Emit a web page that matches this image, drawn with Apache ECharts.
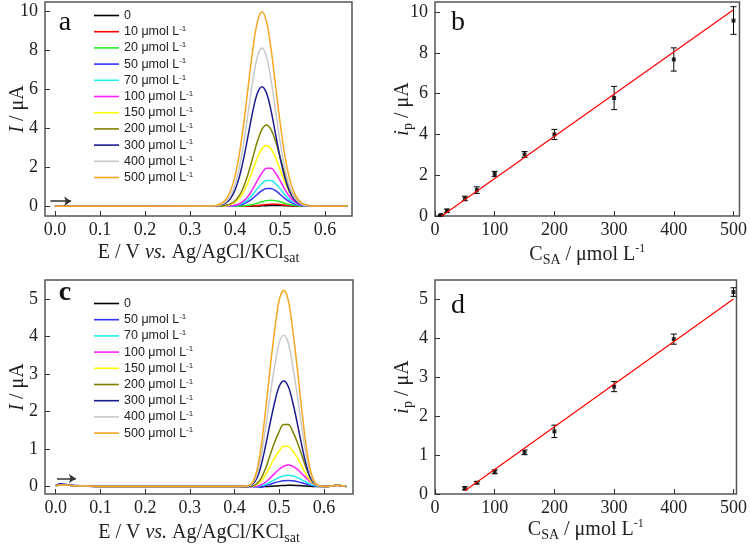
<!DOCTYPE html>
<html>
<head>
<meta charset="utf-8">
<script src="https://cdn.jsdelivr.net/npm/echarts@6/dist/echarts.min.js"></script>
<style>
  html, body { margin: 0; background: #fff; }
  #chart { width: 750px; height: 548px; }
</style>
</head>
<body>
<div id="chart"></div>
<script>
// ---- panel a: DPV curves, potential grid (V) ----
const potA = [0, 0.34, 0.35, 0.36, 0.37, 0.38, 0.39, 0.40, 0.41, 0.42, 0.43, 0.44, 0.45, 0.46,
  0.47, 0.48, 0.49, 0.50, 0.51, 0.52, 0.53, 0.54, 0.55, 0.56, 0.57, 0.58, 0.60, 0.65];
const a0 = [0, 0, 0, 0, 0, 0, 0, 0, 0, 0, 0, 0.01, 0.015, 0.022, 0.03, 0.037, 0.04, 0.037, 0.03, 0.022, 0.015, 0.01, 0.005, 0, 0, 0, 0, 0];
const a10 = [0, 0, 0, 0, 0, 0, 0, 0, 0, 0.004, 0.011, 0.022, 0.04, 0.063, 0.085, 0.098, 0.098, 0.085, 0.063, 0.04, 0.022, 0.011, 0.004, 0, 0, 0, 0, 0];
const a20 = [0, 0, 0, 0, 0, 0, 0, 0, 0.01, 0.02, 0.05, 0.09, 0.16, 0.23, 0.29, 0.31, 0.29, 0.23, 0.16, 0.09, 0.05, 0.02, 0.01, 0, 0, 0, 0, 0];
const a50 = [0, 0, 0, 0, 0, 0, 0.01, 0.03, 0.06, 0.13, 0.25, 0.42, 0.62, 0.80, 0.91, 0.91, 0.80, 0.62, 0.42, 0.25, 0.13, 0.06, 0.03, 0.01, 0, 0, 0, 0];
const a70 = [0, 0, 0, 0, 0, 0, 0.01, 0.04, 0.09, 0.20, 0.37, 0.62, 0.91, 1.17, 1.33, 1.33, 1.17, 0.91, 0.62, 0.37, 0.20, 0.09, 0.04, 0.01, 0, 0, 0, 0];
const a100 = [0, 0, 0, 0, 0, 0.01, 0.02, 0.05, 0.13, 0.29, 0.54, 0.91, 1.33, 1.71, 1.95, 1.95, 1.71, 1.33, 0.91, 0.54, 0.29, 0.13, 0.05, 0.02, 0.01, 0, 0, 0];
const a150 = [0, 0, 0, 0, 0.01, 0.03, 0.09, 0.21, 0.42, 0.78, 1.29, 1.90, 2.51, 2.96, 3.13, 2.96, 2.51, 1.90, 1.29, 0.78, 0.42, 0.21, 0.09, 0.03, 0.01, 0, 0, 0];
const a200 = [0, 0, 0, 0, 0.02, 0.05, 0.12, 0.27, 0.56, 1.04, 1.72, 2.54, 3.35, 3.95, 4.18, 3.95, 3.35, 2.54, 1.72, 1.04, 0.56, 0.27, 0.12, 0.05, 0.02, 0, 0, 0];
const a300 = [0, 0, 0, 0.02, 0.07, 0.18, 0.40, 0.83, 1.53, 2.53, 3.73, 4.93, 5.82, 6.15, 5.82, 4.93, 3.73, 2.53, 1.53, 0.83, 0.40, 0.18, 0.07, 0.02, 0, 0, 0, 0];
const a400 = [0, 0, 0.01, 0.03, 0.09, 0.23, 0.53, 1.10, 2.02, 3.34, 4.93, 6.51, 7.69, 8.13, 7.69, 6.51, 4.93, 3.34, 2.02, 1.10, 0.53, 0.23, 0.09, 0.03, 0.01, 0, 0, 0];
const a500 = [0, 0.01, 0.02, 0.06, 0.15, 0.36, 0.78, 1.54, 2.72, 4.35, 6.26, 8.12, 9.49, 10.0, 9.49, 8.12, 6.26, 4.35, 2.72, 1.54, 0.78, 0.36, 0.15, 0.06, 0.02, 0.01, 0, 0];
const concA = [0, 10, 20, 50, 70, 100, 150, 200, 300, 400, 500];
const curvesA = [a0, a10, a20, a50, a70, a100, a150, a200, a300, a400, a500];

// ---- panel c: DPV curves ----
const potC = [0, 0.01, 0.02, 0.04, 0.07, 0.10, 0.20, 0.30, 0.35, 0.40, 0.43, 0.44, 0.45, 0.46, 0.47,
  0.48, 0.49, 0.50, 0.51, 0.52, 0.53, 0.54, 0.55, 0.56, 0.57, 0.58, 0.59, 0.60, 0.61, 0.62, 0.63, 0.64, 0.65];
const c0 = [0.02, 0.04, 0.04, 0.02, 0.01, 0, 0, 0, 0, 0, 0, 0, 0, 0, 0, 0.005, 0.01, 0.02, 0.025, 0.03, 0.03, 0.025, 0.02, 0.01, 0.005, 0, 0, 0, 0, 0.02, 0.03, 0.02, 0];
const c50 = [0.03, 0.07, 0.06, 0.03, 0.01, 0, 0, 0, 0, 0, 0, 0, -0.01, -0.02, 0.03, 0.06, 0.10, 0.13, 0.15, 0.16, 0.155, 0.13, 0.10, 0.065, 0.035, 0.01, 0, 0, 0, 0.02, 0.03, 0.02, 0];
const c70 = [0.02, 0.04, 0.04, 0.02, 0.01, 0, 0, 0, 0, 0, 0, 0, 0.006, 0.024, 0.06, 0.12, 0.18, 0.24, 0.285, 0.30, 0.285, 0.24, 0.18, 0.12, 0.06, 0.024, 0.006, 0, 0, 0.02, 0.03, 0.02, 0];
const c100 = [0.02, 0.04, 0.04, 0.02, 0.01, 0, 0, 0, 0, 0, 0, 0, 0.01, 0.05, 0.12, 0.23, 0.35, 0.46, 0.54, 0.57, 0.54, 0.46, 0.35, 0.23, 0.12, 0.05, 0.01, 0, 0, 0.02, 0.03, 0.02, 0];
const c150 = [0.02, 0.04, 0.04, 0.02, 0.01, 0, 0, 0, 0, 0, 0, 0.01, 0.05, 0.15, 0.32, 0.55, 0.77, 0.95, 1.07, 1.07, 0.95, 0.77, 0.55, 0.32, 0.15, 0.05, 0.01, 0, 0, 0.02, 0.03, 0.02, 0];
const c200 = [0.02, 0.04, 0.04, 0.02, 0.01, 0, 0, 0, 0, 0, 0, 0.01, 0.08, 0.23, 0.50, 0.85, 1.19, 1.47, 1.65, 1.65, 1.47, 1.19, 0.85, 0.50, 0.23, 0.08, 0.01, 0, 0, 0.02, 0.03, 0.02, 0];
const c300 = [0.03, 0.06, 0.05, 0.02, 0.01, 0, 0, 0, 0, 0, 0, 0.06, 0.22, 0.59, 1.12, 1.71, 2.25, 2.67, 2.81, 2.67, 2.25, 1.71, 1.12, 0.59, 0.22, 0.06, 0.01, 0, 0, 0.02, 0.03, 0.02, 0];
const c400 = [0.02, 0.04, 0.04, 0.02, 0.01, 0, 0, 0, 0, 0, 0.01, 0.08, 0.32, 0.85, 1.61, 2.46, 3.22, 3.83, 4.03, 3.83, 3.22, 2.46, 1.61, 0.85, 0.32, 0.08, 0.01, 0, 0, 0.02, 0.03, 0.02, 0];
const c500 = [0.02, 0.04, 0.04, 0.02, 0.01, 0, 0, 0, 0, 0, 0.02, 0.10, 0.42, 1.10, 2.09, 3.19, 4.18, 4.97, 5.23, 4.97, 4.18, 3.19, 2.09, 1.10, 0.42, 0.10, 0.02, 0, 0, 0.02, 0.03, 0.02, 0];
const concC = [0, 50, 70, 100, 150, 200, 300, 400, 500];
const curvesC = [c0, c50, c70, c100, c150, c200, c300, c400, c500];

// scan direction arrows
const arrowA = [[-0.01, 0.26], [0.036, 0.26]];
const arrowC = [[0.003, 0.21], [0.045, 0.21]];

// ---- panel b / d: calibration ----
const concB = [10, 20, 50, 70, 100, 150, 200, 300, 400, 500];
const ipB = [0.05, 0.26, 0.86, 1.27, 2.06, 3.02, 4.0, 5.79, 7.68, 9.59];
const errB = [0.03, 0.08, 0.11, 0.16, 0.13, 0.14, 0.25, 0.57, 0.57, 0.68];
const fitBx = [10, 500];
const fitBy = [-0.02, 10.12];
const concD = [50, 70, 100, 150, 200, 300, 400, 500];
const ipD = [0.145, 0.29, 0.57, 1.07, 1.61, 2.76, 3.98, 5.19];
const errD = [0.04, 0.03, 0.05, 0.06, 0.16, 0.13, 0.13, 0.11];
const fitDx = [50, 500];
const fitDy = [0.085, 5.01];

// tick values
const ticksPot = [0, 0.1, 0.2, 0.3, 0.4, 0.5, 0.6];
const ticksIa = [0, 2, 4, 6, 8, 10];
const ticksIc = [0, 1, 2, 3, 4, 5];
const ticksConc = [0, 100, 200, 300, 400, 500];

const colorOf = {
  0: '#000000', 10: '#ff0000', 20: '#22ee22', 50: '#3333ff', 70: '#22eeee', 100: '#ff22ff',
  150: '#ffff00', 200: '#808000', 300: '#1a1a8c', 400: '#c8c8c8', 500: '#f5a623'
};

const serif = '"Liberation Serif", "Times New Roman", serif';
const sans = '"Liberation Sans", Arial, sans-serif';
const ink = '#222';

const nameRich = {
  t: { fontFamily: serif, fontSize: 20, color: ink, lineHeight: 24 },
  i: { fontFamily: serif, fontSize: 20, fontStyle: 'italic', color: ink, lineHeight: 24 },
  sub: { fontFamily: serif, fontSize: 14, color: ink, verticalAlign: 'bottom', lineHeight: 14 },
  sup: { fontFamily: serif, fontSize: 12, color: ink, verticalAlign: 'top', lineHeight: 12 }
};

const seriesName = c => c === 0 ? '0' : c + ' μmol L-1';

function valAxis(idx, min, max, ticks, fmt, name, gap, isX) {
  const ax = {
    type: 'value', gridIndex: idx, min: min, max: max,
    name: name, nameLocation: 'middle', nameGap: gap,
    nameTextStyle: { rich: nameRich },
    axisLine: { show: false, onZero: false },
    splitLine: { show: false },
    axisTick: { inside: true, length: 5, customValues: ticks, lineStyle: { color: '#333', width: 1 } },
    axisLabel: {
      customValues: ticks, formatter: fmt, margin: isX ? 5 : 7,
      fontFamily: serif, fontSize: 18, color: ink
    }
  };
  if (!isX) ax.nameMoveOverlap = false;
  return ax;
}

const fmtPot = v => v.toFixed(1);
const fmtInt = v => String(Math.round(v));

function curveSeries(idx, pot, conc, curves, arrow) {
  return conc.map((c, k) => {
    const s = {
      type: 'line', name: seriesName(c), xAxisIndex: idx, yAxisIndex: idx,
      data: pot.map((p, i) => [p, curves[k][i]]),
      symbol: 'none', smooth: 0.35, silent: true,
      color: colorOf[c],
      lineStyle: { width: 1.5, color: colorOf[c] }
    };
    if (k === 0) {
      s.markLine = {
        silent: true, symbol: ['none', 'arrow'], symbolSize: 7,
        lineStyle: { color: '#333', width: 1.5, type: 'solid' },
        label: { show: false },
        data: [[{ coord: arrow[0] }, { coord: arrow[1] }]]
      };
    }
    return s;
  });
}

function calSeries(idx, xs, ys, es, fx, fy) {
  return [
    {
      type: 'line', xAxisIndex: idx, yAxisIndex: idx, symbol: 'none', silent: true,
      data: fx.map((x, i) => [x, fy[i]]),
      lineStyle: { color: '#ff0000', width: 1.2 }
    },
    {
      type: 'custom', xAxisIndex: idx, yAxisIndex: idx, silent: true,
      encode: { x: 0, y: 1 },
      data: xs.map((x, i) => [x, ys[i], es[i]]),
      renderItem: (params, api) => {
        const x = api.value(0), y = api.value(1), e = api.value(2);
        const hi = api.coord([x, y + e]);
        const lo = api.coord([x, y - e]);
        const st = { stroke: '#000', lineWidth: 1 };
        return {
          type: 'group', children: [
            { type: 'line', shape: { x1: hi[0], y1: hi[1], x2: lo[0], y2: lo[1] }, style: st },
            { type: 'line', shape: { x1: hi[0] - 3, y1: hi[1], x2: hi[0] + 3, y2: hi[1] }, style: st },
            { type: 'line', shape: { x1: lo[0] - 3, y1: lo[1], x2: lo[0] + 3, y2: lo[1] }, style: st }
          ]
        };
      }
    },
    {
      type: 'scatter', xAxisIndex: idx, yAxisIndex: idx, silent: true,
      symbol: 'rect', symbolSize: 4, itemStyle: { color: '#000' },
      data: xs.map((x, i) => [x, ys[i]])
    }
  ];
}

function legendFor(conc, top) {
  return {
    data: conc.map(seriesName), orient: 'vertical', left: 94, top: top, padding: 0,
    icon: 'rect', itemWidth: 25, itemHeight: 1.6, itemGap: 2.7, selectedMode: false,
    formatter: n => n === '0' ? '{n|0}' : '{n|' + n.replace('-1', '') + '}{s|-1}',
    textStyle: {
      fontFamily: sans, fontSize: 12, color: ink,
      rich: {
        n: { fontFamily: sans, fontSize: 12.5, color: ink, lineHeight: 14 },
        s: { fontFamily: sans, fontSize: 8, color: ink, verticalAlign: 'top', lineHeight: 9 }
      }
    }
  };
}

const frame = { show: true, borderColor: '#555', borderWidth: 1.5, backgroundColor: 'transparent' };

const chart = echarts.init(document.getElementById('chart'));
chart.setOption({
  animation: false,
  backgroundColor: '#fff',
  grid: [
    Object.assign({ left: 45, top: 2, width: 307, height: 214 }, frame),
    Object.assign({ left: 435, top: 2, width: 306, height: 214 }, frame),
    Object.assign({ left: 45, top: 280, width: 308, height: 214 }, frame),
    Object.assign({ left: 435, top: 280, width: 303, height: 214 }, frame)
  ],
  xAxis: [
    valAxis(0, -0.022, 0.66, ticksPot, fmtPot, '{t|E / V }{i|vs.}{t| Ag/AgCl/KCl}{sub|sat}', 25, true),
    valAxis(1, 0, 510, ticksConc, fmtInt, '{t|C}{sub|SA}{t| / μmol L}{sup|-1}', 27, true),
    valAxis(2, -0.024, 0.665, ticksPot, fmtPot, '{t|E / V }{i|vs.}{t| Ag/AgCl/KCl}{sub|sat}', 27, true),
    valAxis(3, 0, 505, ticksConc, fmtInt, '{t|C}{sub|SA}{t| / μmol L}{sup|-1}', 22, true)
  ],
  yAxis: [
    valAxis(0, -0.5, 10.5, ticksIa, fmtInt, '{i|I}{t| / μA}', 15, false),
    valAxis(1, 0, 10.5, ticksIa, fmtInt, '{i|i}{sub|p}{t| / μA}', 20, false),
    valAxis(2, -0.2, 5.5, ticksIc, fmtInt, '{i|I}{t| / μA}', 15, false),
    valAxis(3, 0, 5.5, ticksIc, fmtInt, '{i|i}{sub|p}{t| / μA}', 20, false)
  ],
  legend: [legendFor(concA, 9), legendFor(concC, 297)],
  graphic: [
    { type: 'text', x: 65, y: 23, style: { text: 'a', font: '28px "Liberation Serif"', fill: '#111', textAlign: 'center', textVerticalAlign: 'middle' } },
    { type: 'text', x: 458, y: 23, style: { text: 'b', font: '28px "Liberation Serif"', fill: '#111', textAlign: 'center', textVerticalAlign: 'middle' } },
    { type: 'text', x: 65, y: 293, style: { text: 'c', font: 'bold 28px "Liberation Serif"', fill: '#111', textAlign: 'center', textVerticalAlign: 'middle' } },
    { type: 'text', x: 458, y: 306, style: { text: 'd', font: '28px "Liberation Serif"', fill: '#111', textAlign: 'center', textVerticalAlign: 'middle' } }
  ],
  series: [].concat(
    curveSeries(0, potA, concA, curvesA, arrowA),
    curveSeries(2, potC, concC, curvesC, arrowC),
    calSeries(1, concB, ipB, errB, fitBx, fitBy),
    calSeries(3, concD, ipD, errD, fitDx, fitDy)
  )
});
</script>
</body>
</html>
